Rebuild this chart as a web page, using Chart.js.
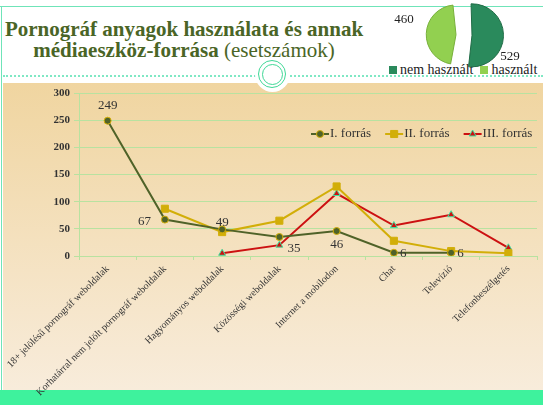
<!DOCTYPE html>
<html>
<head>
<meta charset="utf-8">
<script src="https://cdn.jsdelivr.net/npm/chart.js@4.4.1/dist/chart.umd.min.js"></script>
<style>
  html, body { margin: 0; padding: 0; }
  body { width: 543px; height: 405px; position: relative; overflow: hidden; background: #fff; font-family: 'Liberation Serif', 'DejaVu Serif', serif; }
  .topline { position: absolute; left: 0; top: 6px; width: 543px; height: 0; border-top: 1.5px solid #6fe4b8; }
  .leftline { position: absolute; left: 1px; top: 6px; width: 0; height: 400px; border-left: 1.5px solid #6fe4b8; }
  .dots { position: absolute; left: 3px; top: 75px; width: 540px; height: 0; border-top: 2px dotted #7fe8c4; }
  .panel { position: absolute; left: 3px; top: 83px; width: 540px; height: 307px; background: linear-gradient(#f0d5a0, #f8ecdb); }
  .bar { position: absolute; left: 0; top: 390px; width: 543px; height: 15px; background: #3ef29d; }
  .notch { position: absolute; left: 255px; top: 57px; width: 35px; height: 35px; border-radius: 50%; background: #fff; }
  .ring { position: absolute; border-radius: 50%; border: 1.5px solid #3fd896; }
  h1 { position: absolute; left: 0; top: 19px; width: 368px; margin: 0; text-align: center; color: #4a6526; font-family: 'Liberation Serif', serif; font-size: 21px; line-height: 21px; font-weight: bold; }
  h1 span { font-weight: normal; font-family: 'Liberation Serif', serif; }
  .pielegend { position: absolute; top: 62px; left: 389px; font-family: 'Liberation Serif', serif; font-size: 14px; color: #222; white-space: nowrap; }
  .sw { display: inline-block; width: 8px; height: 8px; margin-right: 3px; }
  #main { position: absolute; left: 0; top: 0; }
  #pie { position: absolute; left: 385px; top: -5px; }
</style>
</head>
<body>
<div class="topline"></div>
<div class="leftline"></div>
<div class="panel"></div>
<div class="dots"></div>
<div class="notch"></div>
<div class="ring" style="left:258px;top:60px;width:26px;height:26px;"></div>
<div class="ring" style="left:261.5px;top:63.5px;width:19px;height:19px;"></div>
<div class="bar"></div>
<h1>Pornográf anyagok használata és annak<br>médiaeszköz-forrása <span>(esetszámok)</span></h1>
<div class="pielegend"><span class="sw" style="background:#2a8a5c"></span>nem használt&nbsp;&nbsp;<span class="sw" style="background:#92d050"></span>használt</div>
<canvas id="main" width="543" height="405"></canvas>
<canvas id="pie" width="158" height="80"></canvas>
<script>
const categories = [
  '18+ jelölésű pornográf weboldalak',
  'Korhatárral nem jelölt pornográf weboldalak',
  'Hagyományos weboldalak',
  'Közösségi weboldalak',
  'Internet a mobilodon',
  'Chat',
  'Televízió',
  'Telefonbeszélgetés'
];
const seriesNames = ['I. forrás', 'II. forrás', 'III. forrás'];
const forras1 = [249, 67, 49, 35, 46, 6, 6, null];
const forras2 = [null, 87, 44, 65, 128, 28, 9, 5];
const forras3 = [null, null, 5, 20, 115, 56, 76, 15];
const yTicks = [0, 50, 100, 150, 200, 250, 300];

const pieLabels = ['nem használt', 'használt'];
const pieValues = [529, 460];

const SERIF = "'Liberation Serif', serif";
const OLIVE = '#4f6228', GOLD = '#d2ae08', RED = '#cc1111', MINT = '#3fe0a0';
const GRID = '#b8e2a0', INK = '#333';

// labels next to the I. forrás points: [dx, dy, align]
const labelPos = [[0, -15, 'center'], [-14, 2, 'right'], [0, -7, 'center'], [8, 12, 'left'],
                  [0, 14, 'center'], [6, 1, 'left'], [6, 1, 'left']];

const pointLabels = {
  id: 'pointLabels',
  afterDatasetsDraw(chart) {
    const ctx = chart.ctx;
    const meta = chart.getDatasetMeta(0);
    ctx.save();
    ctx.font = '13px ' + SERIF;
    ctx.fillStyle = INK;
    ctx.textBaseline = 'middle';
    meta.data.forEach((pt, i) => {
      const v = forras1[i];
      if (v == null) return;
      const [dx, dy, al] = labelPos[i];
      ctx.textAlign = al;
      ctx.fillText(String(v), pt.x + dx, pt.y + dy);
    });
    ctx.restore();
  }
};

// legend with line + marker samples, inside the plot
const lineLegend = {
  id: 'lineLegend',
  afterDraw(chart) {
    const ctx = chart.ctx;
    let x = 311;
    const y = 134;
    ctx.save();
    ctx.font = '13px ' + SERIF;
    ctx.textBaseline = 'middle';
    chart.data.datasets.forEach((ds) => {
      ctx.strokeStyle = ds.borderColor;
      ctx.lineWidth = 2;
      ctx.beginPath(); ctx.moveTo(x, y); ctx.lineTo(x + 18, y); ctx.stroke();
      ctx.fillStyle = ds.pointBackgroundColor;
      ctx.strokeStyle = ds.pointBorderColor;
      ctx.lineWidth = ds.pointBorderWidth;
      Chart.helpers.drawPoint(ctx, { pointStyle: ds.pointStyle, radius: ds.pointRadius, borderWidth: 1 }, x + 9, y);
      ctx.fillStyle = INK;
      ctx.textAlign = 'left';
      ctx.fillText(ds.label, x + 19, y);
      x += 19 + ctx.measureText(ds.label).width + 14;
    });
    ctx.restore();
  }
};

function line(label, data, color, style, radius, bg, border) {
  return {
    label, data,
    borderColor: color, backgroundColor: bg,
    borderWidth: 2,
    pointStyle: style, pointRadius: radius,
    pointBackgroundColor: bg, pointBorderColor: border, pointBorderWidth: 1,
    tension: 0, spanGaps: false,
  };
}

new Chart(document.getElementById('main'), {
  type: 'line',
  data: {
    labels: categories,
    datasets: [
      line(seriesNames[0], forras1, OLIVE, 'circle', 3.5, OLIVE, GOLD),
      line(seriesNames[1], forras2, GOLD, 'rect', 5, GOLD, GOLD),
      line(seriesNames[2], forras3, RED, 'triangle', 4, RED, MINT),
    ],
  },
  options: {
    responsive: false,
    animation: false,
    layout: { padding: { top: 93, right: 0, left: 0, bottom: 0 } },
    plugins: { legend: { display: false }, tooltip: { enabled: false } },
    scales: {
      x: {
        offset: true,
        grid: { offset: true, drawOnChartArea: false, color: GRID, tickLength: 4 },
        border: { color: GRID },
        ticks: { minRotation: 45, maxRotation: 45, autoSkip: false, color: INK, font: { family: SERIF, size: 10 }, padding: 3 },
        afterFit(s) { s.height = 149; },
      },
      y: {
        min: 0, max: 300,
        afterBuildTicks(s) { s.ticks = yTicks.map((v) => ({ value: v })); },
        grid: { color: GRID, lineWidth: 1, tickLength: 5 },
        border: { color: GRID },
        ticks: { color: INK, font: { family: SERIF, size: 11, weight: 'bold' }, padding: 4 },
        afterFit(s) { s.width = 79; },
      },
    },
  },
  plugins: [pointLabels, lineLegend],
});

// small exploded pie at the top right; Chart.js moves an arc by offset / 4
const PIE_OFFSET = 32;
// number labels, relative to the pie centre: [dx, dy]
const pieLabelPos = [[46, 22], [-60, -15]];
const pieNumbers = {
  id: 'pieNumbers',
  afterDatasetsDraw(chart) {
    const ctx = chart.ctx;
    const a = chart.chartArea;
    const cx = (a.left + a.right) / 2, cy = (a.top + a.bottom) / 2;
    ctx.save();
    ctx.font = '13px ' + SERIF;
    ctx.fillStyle = '#222';
    ctx.textAlign = 'center';
    ctx.textBaseline = 'middle';
    pieValues.forEach((v, i) => {
      const [dx, dy] = pieLabelPos[i];
      ctx.fillText(String(v), cx + dx, cy + dy);
    });
    ctx.restore();
  }
};

new Chart(document.getElementById('pie'), {
  type: 'pie',
  data: {
    labels: pieLabels,
    datasets: [{
      data: pieValues,
      backgroundColor: ['#2a8a5c', '#92d050'],
      borderColor: ['#1f6b45', '#77b03a'],
      borderWidth: 1,
      offset: PIE_OFFSET,
    }],
  },
  options: {
    responsive: false,
    animation: false,
    rotation: -4,
    layout: { padding: { top: 0, bottom: 0, left: 20, right: 20 } },
    plugins: { legend: { display: false }, tooltip: { enabled: false } },
  },
  plugins: [pieNumbers],
});
</script>
</body>
</html>
